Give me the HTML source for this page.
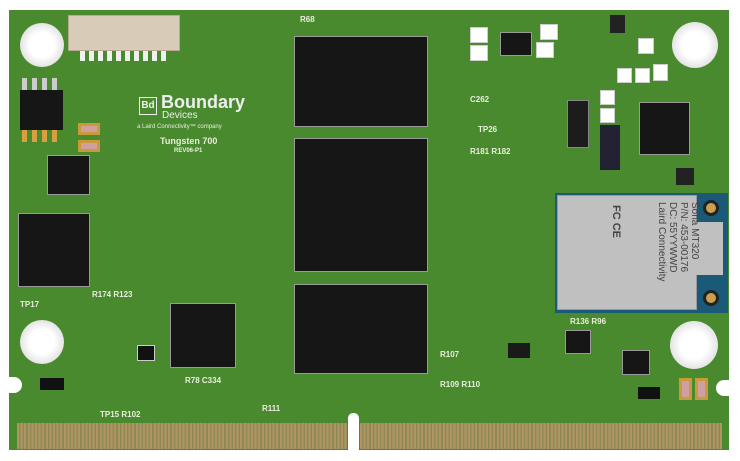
<!DOCTYPE html>
<html><head><style>
body{margin:0;width:740px;height:461px;background:#fff;position:relative;overflow:hidden;font-family:"Liberation Sans",sans-serif}
div{position:absolute;box-sizing:border-box}
.chip{background:#161616;border:1.5px solid #9a9a9a}
.hole{border-radius:50%;background:radial-gradient(circle,#fff 0 40%,#e4e4e4 70%,#d4d4d4 100%)}
.l{color:#e8eedc;font-size:8px;font-weight:bold;white-space:nowrap}
.pad{background:#fff;border:1px solid #ccc}
.cap{background:#c89a3a}
</style></head><body>
<div style="left:9px;top:10px;width:720px;height:440px;background:#4a8a2f"></div>
<div style="left:0;top:377px;width:22px;height:16px;background:#fff;border-radius:0 8px 8px 0"></div>
<div style="left:716px;top:380px;width:24px;height:16px;background:#fff;border-radius:8px 0 0 8px"></div>
<div style="left:17px;top:423px;width:330px;height:26px;background:repeating-linear-gradient(90deg,#b09562 0 2px,#8f8a55 2px 3.6px)"></div>
<div style="left:360px;top:423px;width:362px;height:26px;background:repeating-linear-gradient(90deg,#b09562 0 2px,#8f8a55 2px 3.6px)"></div>
<div style="left:348px;top:413px;width:11px;height:37px;background:#fff;border-radius:5px 5px 0 0"></div>
<div class="hole" style="left:20px;top:23px;width:44px;height:44px"></div>
<div class="hole" style="left:672px;top:22px;width:46px;height:46px"></div>
<div class="hole" style="left:20px;top:320px;width:44px;height:44px"></div>
<div class="hole" style="left:670px;top:321px;width:48px;height:48px"></div>
<div style="left:68px;top:15px;width:112px;height:36px;background:#d8cbb8;border:1px solid #b8a890"></div>
<div style="left:80px;top:51px;width:88px;height:10px;background:repeating-linear-gradient(90deg,#f0f0f0 0 5px,#4a8a2f 5px 9px)"></div>
<div class="chip" style="left:294px;top:36px;width:134px;height:91px"></div>
<div class="chip" style="left:294px;top:138px;width:134px;height:134px"></div>
<div class="chip" style="left:294px;top:284px;width:134px;height:90px"></div>
<div class="chip" style="left:170px;top:303px;width:66px;height:65px"></div>
<div class="chip" style="left:18px;top:213px;width:72px;height:74px"></div>
<div class="chip" style="left:47px;top:155px;width:43px;height:40px"></div>
<div style="left:20px;top:90px;width:43px;height:40px;background:#161616"></div>
<div style="left:22px;top:78px;width:40px;height:12px;background:repeating-linear-gradient(90deg,#ccc 0 5px,#4a8a2f 5px 10px)"></div>
<div style="left:22px;top:130px;width:40px;height:12px;background:repeating-linear-gradient(90deg,#d8a040 0 5px,#4a8a2f 5px 10px)"></div>
<div style="left:78px;top:123px;width:22px;height:12px;background:#d0a0a0;border:3px solid #c89a3a"></div>
<div style="left:78px;top:140px;width:22px;height:12px;background:#d0a0a0;border:3px solid #c89a3a"></div>
<div style="left:139px;top:97px;width:18px;height:18px;border:1.5px solid #eee;color:#eee;font-size:10px;font-weight:bold;text-align:center;line-height:15px">Bd</div>
<div class="l" style="left:161px;top:92px;font-size:18px;color:#eee">Boundary</div>
<div class="l" style="left:162px;top:110px;font-size:10px;font-weight:normal;color:#eee">Devices</div>
<div class="l" style="left:137px;top:124px;font-size:6px;font-weight:normal">a Laird Connectivity™ company</div>
<div class="l" style="left:160px;top:136px;font-size:9px">Tungsten 700</div>
<div class="l" style="left:174px;top:148px;font-size:6px">REV06-P1</div>
<div class="chip" style="left:500px;top:32px;width:32px;height:24px"></div>
<div class="pad" style="left:470px;top:27px;width:18px;height:16px"></div>
<div class="pad" style="left:470px;top:45px;width:18px;height:16px"></div>
<div class="pad" style="left:540px;top:24px;width:18px;height:16px"></div>
<div class="pad" style="left:536px;top:42px;width:18px;height:16px"></div>
<div style="left:610px;top:15px;width:15px;height:18px;background:#222"></div>
<div class="pad" style="left:638px;top:38px;width:16px;height:16px"></div>
<div class="pad" style="left:617px;top:68px;width:15px;height:15px"></div>
<div class="pad" style="left:635px;top:68px;width:15px;height:15px"></div>
<div class="pad" style="left:653px;top:64px;width:15px;height:17px"></div>
<div class="pad" style="left:600px;top:90px;width:15px;height:15px"></div>
<div class="pad" style="left:600px;top:108px;width:15px;height:15px"></div>
<div class="chip" style="left:639px;top:102px;width:51px;height:53px"></div>
<div style="left:567px;top:100px;width:22px;height:48px;background:#1c1c1c;border:1px solid #888"></div>
<div style="left:676px;top:168px;width:18px;height:17px;background:#222"></div>
<div style="left:600px;top:125px;width:20px;height:45px;background:#223"></div>
<div style="left:555px;top:193px;width:173px;height:120px;background:#1a5a78"></div>
<div style="left:557px;top:195px;width:140px;height:115px;background:#c0c0c0;border:1px solid #999"></div>
<div style="left:696px;top:222px;width:27px;height:53px;background:#c0c0c0"></div>
<div style="left:703px;top:200px;width:16px;height:16px;border-radius:50%;background:#c8a050;border:3px solid #222"></div>
<div style="left:703px;top:290px;width:16px;height:16px;border-radius:50%;background:#c8a050;border:3px solid #222"></div>
<div class="l" style="font-size:10px;color:#444;transform:rotate(90deg);transform-origin:0 0;left:700px;top:202px;width:100px;font-weight:normal;line-height:11px">Sona MT320<br>P/N: 453-00176<br>DC: 55YYWWD<br>Laird Connectivity</div>
<div class="l" style="left:622px;top:205px;font-size:11px;color:#444;transform:rotate(90deg);transform-origin:0 0">FC CE</div>
<div class="chip" style="left:622px;top:350px;width:28px;height:25px"></div>
<div class="chip" style="left:565px;top:330px;width:26px;height:24px"></div>
<div style="left:508px;top:343px;width:22px;height:15px;background:#1a1a1a"></div>
<div style="left:638px;top:387px;width:22px;height:12px;background:#111"></div>
<div style="left:679px;top:378px;width:13px;height:22px;background:#d0a0a0;border:3px solid #c89a3a"></div>
<div style="left:695px;top:378px;width:13px;height:22px;background:#d0a0a0;border:3px solid #c89a3a"></div>
<div style="left:137px;top:345px;width:18px;height:16px;background:#111;border:1px solid #ccc"></div>
<div style="left:40px;top:378px;width:24px;height:12px;background:#111"></div>
<div class="l" style="left:262px;top:404px">R111</div>
<div class="l" style="left:100px;top:410px">TP15 R102</div>
<div class="l" style="left:440px;top:350px">R107</div>
<div class="l" style="left:470px;top:147px">R181 R182</div>
<div class="l" style="left:570px;top:317px">R136 R96</div>
<div class="l" style="left:92px;top:290px">R174 R123</div>
<div class="l" style="left:300px;top:15px">R68</div>
<div class="l" style="left:478px;top:125px">TP26</div>
<div class="l" style="left:185px;top:376px">R78 C334</div>
<div class="l" style="left:440px;top:380px">R109 R110</div>
<div class="l" style="left:470px;top:95px">C262</div>
<div class="l" style="left:20px;top:300px">TP17</div>
</body></html>
